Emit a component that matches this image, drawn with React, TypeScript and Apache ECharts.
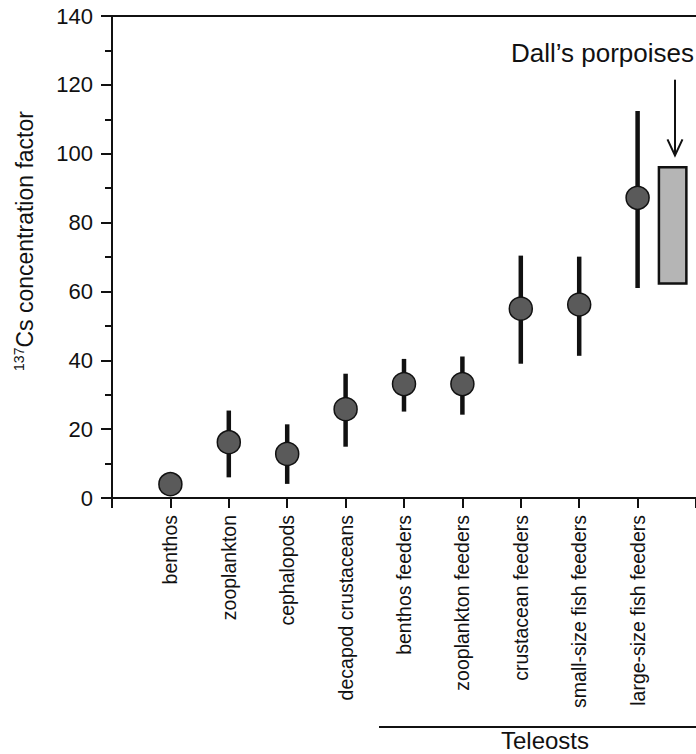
import React, { useEffect, useRef } from "react";
import * as echarts from "echarts";

const categories = [
  "benthos",
  "zooplankton",
  "cephalopods",
  "decapod crustaceans",
  "benthos feeders",
  "zooplankton feeders",
  "crustacean feeders",
  "small-size fish feeders",
  "large-size fish feeders",
];
const positions = [1, 2, 3, 4, 5, 6, 7, 8, 9];
const means = [4, 16.2, 12.8, 25.8, 33.1, 33.1, 55.0, 56.2, 87.2];
const lows = [4, 6.0, 4.1, 14.9, 25.1, 24.2, 39.0, 41.3, 61.0];
const highs = [4, 25.4, 21.4, 36.1, 40.4, 41.1, 70.4, 70.1, 112.4];

const porpoiseX = [9.6];
const porpoiseLow = [62.3];
const porpoiseHigh = [96.1];
const arrowX = [9.64];
const arrowFrom = [121.5];
const arrowTo = [99.5];

const yTicks = [0, 20, 40, 60, 80, 100, 120, 140];

const FONT = "'Liberation Sans', Arial, Helvetica, sans-serif";

export default function App() {
  const ref = useRef<HTMLDivElement>(null);
  useEffect(() => {
    document.body.style.margin = "0";
    const chart = echarts.init(ref.current!, null, { renderer: "svg" });
    const errData = positions.map((p, i) => [p, means[i], lows[i], highs[i]]);
    const ptData = positions.map((p, i) => [p, means[i]]);
    const boxData = porpoiseX.map((x, i) => [x, porpoiseLow[i], porpoiseHigh[i]]);
    const arrowData = arrowX.map((x, i) => [x, arrowFrom[i], arrowTo[i]]);
    const yMin = yTicks[0];
    const yMax = yTicks[yTicks.length - 1];
    const option: any = {
      animation: false,
      backgroundColor: "#ffffff",
      textStyle: { fontFamily: FONT },
      grid: { left: 112, right: 0, top: 16, bottom: 256, containLabel: false },
      xAxis: [
        {
          type: "value",
          min: 0,
          max: 10,
          interval: 1,
          splitLine: { show: false },
          axisLine: { show: true, lineStyle: { color: "#111", width: 2 } },
          axisTick: { show: true, inside: false, length: 10, lineStyle: { color: "#111", width: 2 } },
          axisLabel: {
            rotate: 90,
            margin: 17,
            fontSize: 19.5,
            fontFamily: FONT,
            color: "#111",
            formatter: (v: number) => (v >= 1 && v <= categories.length ? categories[v - 1] : ""),
          },
        },
        {
          type: "value",
          position: "top",
          min: 0,
          max: 10,
          splitLine: { show: false },
          axisLine: { show: true, onZero: false, lineStyle: { color: "#111", width: 2 } },
          axisTick: { show: false },
          axisLabel: { show: false },
        },
      ],
      yAxis: [
        {
          type: "value",
          position: "left",
          min: yMin,
          max: yMax,
          interval: 10,
          splitLine: { show: false },
          axisLine: { show: true, onZero: false, lineStyle: { color: "#111", width: 2 } },
          axisTick: { show: true, inside: false, length: 7, lineStyle: { color: "#111", width: 2 } },
          axisLabel: {
            margin: 19,
            fontSize: 22,
            fontFamily: FONT,
            color: "#111",
            formatter: (v: number) => (yTicks.indexOf(v) >= 0 ? String(v) : ""),
          },
        },
        {
          type: "value",
          position: "left",
          min: yMin,
          max: yMax,
          interval: 20,
          splitLine: { show: false },
          axisLine: { show: true, onZero: false, lineStyle: { color: "#111", width: 2 } },
          axisTick: { show: true, inside: false, length: 11, lineStyle: { color: "#111", width: 2 } },
          axisLabel: { show: false },
        },
      ],
      series: [
        {
          type: "custom",
          xAxisIndex: 0,
          yAxisIndex: 0,
          z: 2,
          data: errData,
          renderItem: (params: any, api: any) => {
            const x = api.value(0);
            const lo = api.value(2);
            const hi = api.value(3);
            if (lo === hi) return null;
            const p1 = api.coord([x, lo]);
            const p2 = api.coord([x, hi]);
            return {
              type: "line",
              shape: { x1: p1[0], y1: p1[1], x2: p2[0], y2: p2[1] },
              style: { stroke: "#111", lineWidth: 4.5 },
            };
          },
        },
        {
          type: "scatter",
          xAxisIndex: 0,
          yAxisIndex: 0,
          z: 3,
          symbol: "circle",
          symbolSize: 23,
          data: ptData,
          itemStyle: { color: "#5a5a5a", borderColor: "#111", borderWidth: 1.5, opacity: 1 },
        },
        {
          type: "custom",
          xAxisIndex: 0,
          yAxisIndex: 0,
          z: 2,
          data: boxData,
          renderItem: (params: any, api: any) => {
            const x = api.value(0);
            const lo = api.value(1);
            const hi = api.value(2);
            const a = api.coord([x - 0.235, hi]);
            const b = api.coord([x + 0.235, lo]);
            return {
              type: "rect",
              shape: { x: a[0], y: a[1], width: b[0] - a[0], height: b[1] - a[1] },
              style: { fill: "#b5b5b5", stroke: "#111", lineWidth: 2.5 },
            };
          },
        },
        {
          type: "custom",
          xAxisIndex: 0,
          yAxisIndex: 0,
          z: 2,
          data: arrowData,
          renderItem: (params: any, api: any) => {
            const x = api.value(0);
            const p1 = api.coord([x, api.value(1)]);
            const p2 = api.coord([x, api.value(2)]);
            return {
              type: "group",
              children: [
                {
                  type: "line",
                  shape: { x1: p1[0], y1: p1[1], x2: p2[0], y2: p2[1] },
                  style: { stroke: "#111", lineWidth: 2 },
                },
                {
                  type: "polyline",
                  shape: {
                    points: [
                      [p2[0] - 7.5, p2[1] - 16],
                      [p2[0], p2[1]],
                      [p2[0] + 7.5, p2[1] - 16],
                    ],
                  },
                  style: { stroke: "#111", lineWidth: 2, fill: null },
                },
              ],
            };
          },
        },
      ],
      graphic: [
        {
          type: "text",
          x: 25,
          y: 241,
          rotation: Math.PI / 2,
          style: {
            text: "{sup|137}{n|Cs concentration factor}",
            align: "center",
            verticalAlign: "middle",
            textAlign: "center",
            textVerticalAlign: "middle",
            fill: "#111",
            rich: {
              sup: { fontSize: 14, fontFamily: FONT, fill: "#111", verticalAlign: "top", lineHeight: 26 },
              n: { fontSize: 23, fontFamily: FONT, fill: "#111", lineHeight: 26 },
            },
          },
        },
        {
          type: "text",
          x: 694,
          y: 53,
          style: {
            text: "Dall\u2019s porpoises",
            fontSize: 26,
            fontFamily: FONT,
            fill: "#111",
            align: "right",
            verticalAlign: "middle",
            textAlign: "right",
            textVerticalAlign: "middle",
          },
        },
        {
          type: "line",
          shape: { x1: 379, y1: 727, x2: 696, y2: 727 },
          style: { stroke: "#111", lineWidth: 2 },
        },
        {
          type: "text",
          x: 545,
          y: 740,
          style: {
            text: "Teleosts",
            fontSize: 24,
            fontFamily: FONT,
            fill: "#111",
            align: "center",
            verticalAlign: "middle",
            textAlign: "center",
            textVerticalAlign: "middle",
          },
        },
      ],
    };
    chart.setOption(option);
    return () => chart.dispose();
  }, []);
  return <div ref={ref} style={{ width: 696, height: 754 }} />;
}
